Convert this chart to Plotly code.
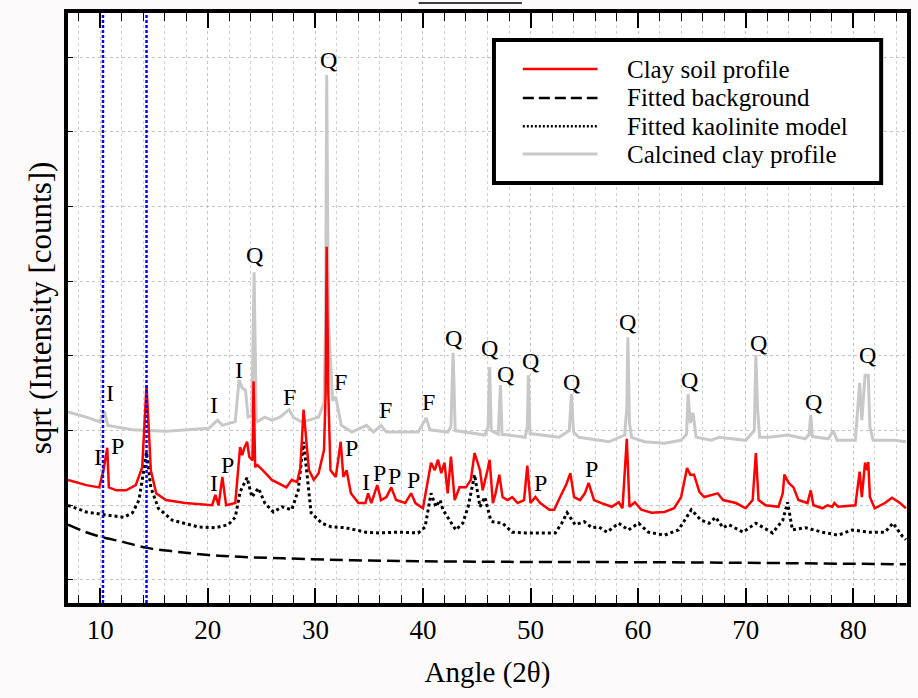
import plotly.graph_objects as go

# ---- data (2theta in degrees, sqrt(counts) in arbitrary units) ----
clay_x = [7.0, 8.7, 9.9, 10.3, 10.65, 10.8, 11.5, 12.4, 13.3, 13.9, 14.3, 14.7, 15.2, 16.1, 17.9,
          20.4, 20.7, 21.0, 21.35, 21.7, 22.55, 23.0, 23.2, 23.4, 23.65, 23.85, 24.15, 24.25, 24.4,
          24.6, 25.1, 25.95, 26.9, 27.3, 27.8, 28.3, 28.6, 28.9, 29.4, 29.85, 30.3, 30.8, 30.95,
          31.05, 31.2, 31.4, 31.9, 32.35, 32.6, 32.9, 33.3, 34.0, 34.65, 34.9, 35.2, 35.75, 36.1,
          36.6, 37.05, 37.5, 38.35, 38.9, 39.3, 40.0, 40.75, 41.1, 41.4, 41.7, 42.0, 42.3, 42.6,
          42.95, 43.4, 44.0, 44.45, 44.8, 45.3, 45.55, 46.0, 46.2, 46.5, 46.75, 47.1, 47.4, 47.85,
          48.3, 48.8, 49.4, 49.7, 50.0, 50.45, 50.9, 51.75, 52.2, 52.75, 53.3, 53.7, 54.05, 54.6,
          55.05, 55.4, 55.9, 56.6, 57.55, 58.2, 58.55, 58.95, 59.2, 59.7, 60.3, 61.25, 62.45,
          63.35, 64.0, 64.55, 64.85, 65.2, 65.7, 66.15, 66.8, 67.4, 67.9, 69.1, 70.0, 70.65, 70.95,
          71.2, 71.85, 73.05, 73.45, 73.6, 74.0, 74.45, 74.9, 75.75, 76.05, 76.3, 77.15, 77.6,
          78.05, 78.25, 78.6, 80.2, 80.6, 80.8, 81.1, 81.3, 81.4, 81.55, 82.0, 82.95, 83.6, 84.35,
          84.9]
clay_y = [23.4, 22.7, 22.4, 24.7, 27.7, 22.4, 22.0, 22.0, 22.7, 25.1, 36.1, 24.7, 21.6, 20.7, 20.3,
          20.0, 21.4, 20.0, 23.8, 20.0, 20.3, 27.8, 26.7, 27.7, 28.5, 26.5, 26.0, 36.6, 25.1,
          25.4, 24.7, 23.4, 22.7, 22.4, 23.4, 23.1, 25.0, 32.8, 24.7, 23.4, 24.3, 27.4, 35.0,
          54.6, 35.0, 24.7, 23.8, 28.5, 23.8, 24.7, 21.6, 20.3, 20.3, 21.6, 20.3, 22.7, 20.7,
          21.1, 22.4, 20.7, 20.3, 21.6, 20.3, 19.6, 25.7, 24.7, 26.1, 24.3, 25.7, 21.6, 26.5,
          20.7, 22.4, 22.4, 23.4, 27.0, 24.7, 22.0, 24.7, 26.1, 20.3, 21.6, 24.1, 21.1, 20.7,
          21.1, 20.3, 20.7, 25.3, 20.3, 21.1, 20.3, 19.4, 19.4, 21.1, 22.7, 24.3, 21.1, 20.7,
          21.6, 23.0, 20.7, 20.3, 19.8, 20.4, 19.6, 28.9, 19.8, 20.4, 19.4, 19.0, 19.1,
          19.6, 21.1, 25.0, 24.1, 24.1, 21.8, 21.1, 21.4, 21.6, 20.7, 20.3, 19.6, 20.7, 27.0,
          20.7, 20.0, 19.8, 21.6, 24.1, 23.0, 22.4, 20.7, 20.3, 22.0, 20.0, 19.6, 20.0,
          19.8, 20.3, 19.8, 20.0, 24.5, 21.1, 25.7, 24.7, 25.8, 21.1, 19.6, 20.3, 21.0, 20.3,
          19.6]

calc_x = [7.0, 8.7, 9.9, 10.4, 10.7, 13.0, 16.1, 20.1, 20.9, 21.35, 22.55, 22.9, 23.2, 23.5, 23.75,
          24.1, 24.3, 24.5, 24.6, 25.3, 25.95, 26.7, 27.55, 28.0, 28.7, 29.4, 30.3, 30.8, 30.95,
          31.05, 31.2, 31.6, 31.9, 32.1, 32.4, 33.4, 34.75, 35.4, 36.1, 36.6, 39.55, 40.3, 40.65,
          42.3, 42.6, 42.8, 43.0, 45.75, 46.05, 46.2, 46.35, 47.0, 47.2, 47.35, 49.5, 49.7, 49.8,
          49.95, 52.65, 53.6, 53.8, 54.0, 54.5, 57.3, 58.75, 58.95, 59.05, 59.2, 59.4, 60.6, 62.45,
          64.0, 64.5, 64.65, 64.85, 65.1, 65.3, 65.4, 66.8, 67.5, 70.0, 70.8, 70.95, 71.1, 71.3,
          72.15, 73.9, 75.55, 75.9, 76.05, 76.2, 77.7, 78.15, 78.5, 80.2, 80.6, 80.8, 81.1, 81.4,
          81.55, 81.85, 83.85, 84.9]
calc_y = [32.5, 31.8, 31.2, 32.5, 30.7, 30.1, 29.9, 30.3, 31.4, 30.7, 31.2, 36.8, 35.7, 35.4, 31.8,
          32.0, 51.2, 31.5, 31.2, 31.8, 31.4, 31.8, 32.8, 31.7, 31.2, 31.4, 31.8, 33.7, 45.0,
          77.6, 45.0, 34.0, 34.5, 32.8, 30.7, 29.8, 30.7, 29.8, 30.7, 29.8, 29.8, 31.7, 30.1,
          29.8, 30.5, 40.4, 30.0, 29.4, 30.5, 38.5, 30.0, 29.5, 36.1, 29.5, 29.1, 30.5, 37.4,
          29.6, 29.1, 30.0, 34.9, 29.8, 29.1, 28.5, 29.4, 33.0, 42.5, 31.0, 29.1, 28.5, 28.3,
          28.7, 29.5, 34.9, 31.0, 32.4, 30.0, 29.1, 28.7, 29.1, 28.7, 30.0, 40.1, 33.0, 29.1,
          29.1, 29.4, 28.9, 29.5, 32.1, 29.2, 28.9, 30.0, 28.7, 28.7, 36.4, 31.4, 37.4, 37.4,
          30.5, 28.7, 28.7, 28.5]

kao_x = [7.0, 8.7, 10.55, 12.2, 13.0, 13.6, 14.0, 14.3, 14.7, 15.4, 16.7, 19.1, 20.7, 21.9, 22.55,
         23.0, 23.65, 24.1, 24.7, 25.3, 26.1, 26.9, 27.8, 28.4, 28.9, 29.6, 30.6, 31.5, 32.8,
         34.65, 35.85, 37.7, 39.55, 40.2, 40.75, 41.2, 41.6, 41.85, 42.3, 43.05, 43.7, 44.2,
         44.8, 45.3, 45.75, 46.3, 46.5, 47.4, 48.3, 49.5, 52.3, 52.9, 53.4, 54.15, 55.0, 55.7,
         56.35, 57.1, 58.2, 59.1, 60.05, 60.95, 62.45, 63.75, 64.95, 65.85, 66.6, 67.2, 67.9,
         68.45, 69.75, 70.95, 72.5, 73.45, 73.9, 74.35, 75.55, 77.15, 78.6, 79.9, 81.4, 82.95,
         83.7, 84.6, 84.9]
kao_y = [20.0, 19.1, 18.7, 18.4, 19.0, 20.7, 24.3, 27.1, 22.4, 19.6, 18.0, 17.1, 17.0, 17.4, 18.4,
         21.8, 23.7, 21.1, 22.3, 20.3, 19.1, 19.8, 19.4, 22.0, 28.5, 19.0, 17.6, 17.1, 17.0,
         16.4, 16.3, 16.4, 16.3, 17.1, 21.6, 19.8, 20.7, 19.4, 18.4, 16.7, 17.6, 19.8,
         24.1, 19.8, 21.1, 18.0, 17.8, 17.6, 16.4, 16.3, 16.3, 17.6, 19.0, 17.4, 17.8, 17.0,
         17.1, 16.4, 17.6, 16.7, 17.6, 16.4, 16.0, 16.7, 19.4, 18.0, 17.6, 18.4, 17.0,
         17.4, 16.4, 17.6, 16.3, 18.0, 20.4, 16.7, 17.0, 16.4, 16.0, 16.7, 16.4, 16.4,
         17.6, 15.8, 15.4]

bg_x = [7.0, 8.5, 10.0, 12.1, 14.35, 17.0, 20.0, 23.0, 27.0, 35.0, 45.0, 65.0, 84.9]
bg_y = [17.4, 16.5, 15.8, 15.1, 14.3, 13.8, 13.35, 13.1, 12.9, 12.6, 12.45, 12.35, 12.1]

ref_lines = [10.25, 14.3]

label_text = ["Q", "Q", "Q", "Q", "Q", "Q", "Q", "Q", "Q", "Q", "Q", "Q",
              "I", "I", "I", "F", "F", "F", "F",
              "I", "P", "I", "P", "P", "I", "P", "P", "P", "P", "P"]
label_x = [31.25, 24.3, 42.8, 46.2, 47.7, 50.0, 53.85, 59.05, 64.75, 71.2, 76.3, 81.3,
           10.9, 20.6, 22.9, 27.55, 32.35, 36.5, 40.5,
           9.8, 11.6, 20.6, 21.8, 33.35, 34.75, 36.0, 37.4, 39.1, 50.9, 55.7]
label_y = [79.6, 53.5, 42.4, 41.1, 37.6, 39.3, 36.5, 44.5, 36.8, 41.7, 33.8, 40.1,
           35.0, 33.4, 38.1, 34.5, 36.5, 32.8, 33.8,
           26.5, 27.9, 23.0, 25.4, 27.7, 23.1, 24.3, 23.9, 23.4, 23.0, 24.9]

legend_names = ["Clay soil profile", "Fitted background", "Fitted kaolinite model", "Calcined clay profile"]

SERIF = "Liberation Serif, Times New Roman, serif"
RED = "#ff0000"
GRAY = "#c8c8c8"

fig = go.Figure()
fig.add_trace(go.Scatter(x=calc_x, y=calc_y, mode="lines", name=legend_names[3],
                         line=dict(color=GRAY, width=3), showlegend=False))
fig.add_trace(go.Scatter(x=bg_x, y=bg_y, mode="lines", name=legend_names[1], line_shape="spline",
                         line=dict(color="black", width=2.5, dash="13px,6px"), showlegend=False))
fig.add_trace(go.Scatter(x=kao_x, y=kao_y, mode="lines", name=legend_names[2],
                         line=dict(color="black", width=3, dash="3px,3px"), showlegend=False))
fig.add_trace(go.Scatter(x=clay_x, y=clay_y, mode="lines", name=legend_names[0],
                         line=dict(color=RED, width=2.5), showlegend=False))

for xv in ref_lines:
    fig.add_vline(x=xv, line=dict(color="#0000ff", width=2.5, dash="3px,2px"), layer="above")

for t, xv, yv in zip(label_text, label_x, label_y):
    fig.add_annotation(x=xv, y=yv, text=t, showarrow=False, xanchor="center", yanchor="middle",
                       font=dict(family=SERIF, size=24, color="black"))

# ---- legend box (drawn in paper coordinates) ----
L_X0, L_X1, L_Y0, L_Y1 = 0.5077, 0.9692, 0.7119, 0.9542
fig.add_shape(type="rect", xref="paper", yref="paper", x0=L_X0, x1=L_X1, y0=L_Y0, y1=L_Y1,
              line=dict(color="black", width=4), fillcolor="white", layer="above")
row_y = [0.905, 0.856, 0.808, 0.761]
styles = [dict(color=RED, width=2.5),
          dict(color="black", width=2.5, dash="11px,5px"),
          dict(color="black", width=2.5, dash="2px,2px"),
          dict(color=GRAY, width=3)]
for name, ry, st in zip(legend_names, row_y, styles):
    fig.add_shape(type="line", xref="paper", yref="paper", x0=0.5421, x1=0.6311, y0=ry, y1=ry,
                  line=st, layer="above")
    fig.add_annotation(xref="paper", yref="paper", x=0.6643, y=ry, text=name, showarrow=False,
                       xanchor="left", yanchor="middle",
                       font=dict(family=SERIF, size=25, color="black"))

# small artifact line above the frame
fig.add_shape(type="line", xref="paper", yref="paper", x0=0.418, x1=0.541, y0=1.017, y1=1.017,
              line=dict(color="black", width=1.5))

fig.update_layout(
    width=918, height=698,
    margin=dict(l=68, r=7, t=13, b=95),
    paper_bgcolor="#fcfafa", plot_bgcolor="white",
    font=dict(family=SERIF, color="black"),
    xaxis=dict(range=[7, 85], dtick=10, tick0=0, ticks="inside", ticklen=15, tickwidth=1.5,
               tickcolor="black", showline=True, linewidth=4, linecolor="black", mirror="ticks",
               showgrid=True, gridcolor="#c4c4c4", griddash="dot", gridwidth=1,
               zeroline=False, tickfont=dict(family=SERIF, size=27),
               minor=dict(dtick=2, ticks="inside", ticklen=8, tickwidth=1.2, tickcolor="black",
                          showgrid=True, gridcolor="#d0d0d0", griddash="dot", gridwidth=1),
               title=dict(text="Angle (2θ)", font=dict(family=SERIF, size=29), standoff=18)),
    yaxis=dict(range=[6.92, 85.9], dtick=10, tick0=0, ticks="inside", ticklen=5, tickcolor="black",
               showticklabels=False, showline=True, linewidth=4, linecolor="black", mirror=True,
               showgrid=True, gridcolor="#c4c4c4", griddash="dot", gridwidth=1, zeroline=False,
               title=dict(text="sqrt (Intensity [counts])", font=dict(family=SERIF, size=31),
                          standoff=4)),
)

fig.write_html("out.html")
